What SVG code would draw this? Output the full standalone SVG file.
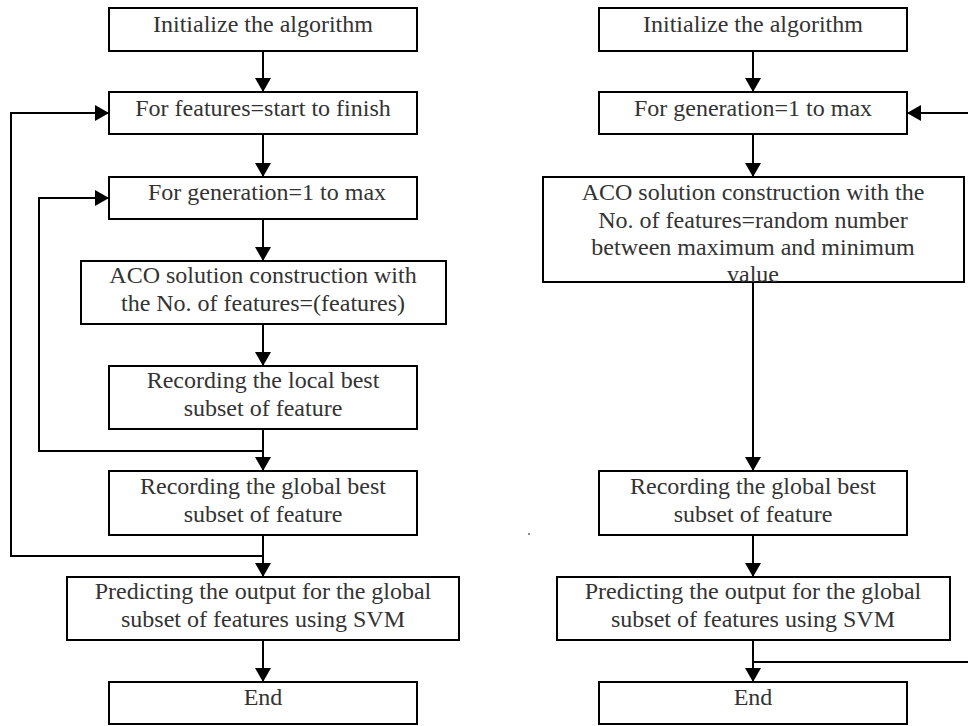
<svg xmlns="http://www.w3.org/2000/svg" width="968" height="726" viewBox="0 0 968 726">
<style>
.box{fill:#fff;stroke:#000;stroke-width:2}
.t{font-family:'Liberation Serif','Times New Roman',serif;font-size:24px;fill:#333;text-anchor:middle}
.c{fill:none;stroke:#000;stroke-width:2}
</style>
<defs>
<marker id="ah" viewBox="0 0 14 16" refX="14" refY="8" markerWidth="14" markerHeight="16" markerUnits="userSpaceOnUse" orient="auto">
<path d="M0,0 L14,8 L0,16 Z" fill="#000"/>
</marker>
</defs>
<rect width="968" height="726" fill="#fff"/>
<g id="connectors">
<line class="c" x1="263" y1="51" x2="263" y2="92" marker-end="url(#ah)"/>
<line class="c" x1="263" y1="134" x2="263" y2="177" marker-end="url(#ah)"/>
<line class="c" x1="263" y1="219" x2="263" y2="261" marker-end="url(#ah)"/>
<line class="c" x1="263" y1="324" x2="263" y2="366" marker-end="url(#ah)"/>
<line class="c" x1="263" y1="429" x2="263" y2="471" marker-end="url(#ah)"/>
<line class="c" x1="263" y1="535" x2="263" y2="577" marker-end="url(#ah)"/>
<line class="c" x1="263" y1="640" x2="263" y2="682" marker-end="url(#ah)"/>
<path class="c" d="M263,451 H39 V198 H109" marker-end="url(#ah)"/>
<path class="c" d="M263,556 H11 V113 H109" marker-end="url(#ah)"/>
<line class="c" x1="753" y1="51" x2="753" y2="92" marker-end="url(#ah)"/>
<line class="c" x1="753" y1="134" x2="753" y2="177" marker-end="url(#ah)"/>
<line class="c" x1="753" y1="282" x2="753" y2="471" marker-end="url(#ah)"/>
<line class="c" x1="753" y1="535" x2="753" y2="577" marker-end="url(#ah)"/>
<line class="c" x1="753" y1="640" x2="753" y2="682" marker-end="url(#ah)"/>
<path class="c" d="M753,662 H972 V113 H907" marker-end="url(#ah)"/>
</g>
<g id="l-init"><rect class="box" x="109" y="8" width="308" height="43"/><text class="t" x="263" y="32">Initialize the algorithm</text></g>
<g id="l-features"><rect class="box" x="109" y="92" width="308" height="42"/><text class="t" x="263" y="116">For features=start to finish</text></g>
<g id="l-generation"><rect class="box" x="109" y="177" width="308" height="42"/><text class="t" x="267" y="200">For generation=1 to max</text></g>
<g id="l-aco"><rect class="box" x="81" y="261" width="365" height="63"/><text class="t" x="263" y="283">ACO solution construction with</text><text class="t" x="263" y="311">the No. of features=(features)</text></g>
<g id="l-local"><rect class="box" x="109" y="366" width="308" height="63"/><text class="t" x="263" y="388">Recording the local best</text><text class="t" x="263" y="416">subset of feature</text></g>
<g id="l-global"><rect class="box" x="109" y="471" width="308" height="64"/><text class="t" x="263" y="494">Recording the global best</text><text class="t" x="263" y="522">subset of feature</text></g>
<g id="l-predict"><rect class="box" x="67" y="577" width="392" height="63"/><text class="t" x="263" y="599">Predicting the output for the global</text><text class="t" x="263" y="627">subset of features using SVM</text></g>
<g id="l-end"><rect class="box" x="109" y="682" width="308" height="42"/><text class="t" x="263" y="705">End</text></g>
<g id="r-init"><rect class="box" x="599" y="8" width="308" height="43"/><text class="t" x="753" y="32">Initialize the algorithm</text></g>
<g id="r-generation"><rect class="box" x="599" y="92" width="308" height="42"/><text class="t" x="753" y="116">For generation=1 to max</text></g>
<g id="r-aco"><rect class="box" x="543" y="177" width="421" height="105"/><text class="t" x="753" y="200">ACO solution construction with the</text><text class="t" x="753" y="228">No. of features=random number</text><text class="t" x="753" y="255">between maximum and minimum</text><text class="t" x="753" y="282">value</text></g>
<g id="r-global"><rect class="box" x="599" y="471" width="308" height="64"/><text class="t" x="753" y="494">Recording the global best</text><text class="t" x="753" y="522">subset of feature</text></g>
<g id="r-predict"><rect class="box" x="557" y="577" width="393" height="63"/><text class="t" x="753" y="599">Predicting the output for the global</text><text class="t" x="753" y="627">subset of features using SVM</text></g>
<g id="r-end"><rect class="box" x="599" y="682" width="308" height="42"/><text class="t" x="753" y="705">End</text></g>
<circle cx="529" cy="534" r="0.8" fill="#000"/>
</svg>
